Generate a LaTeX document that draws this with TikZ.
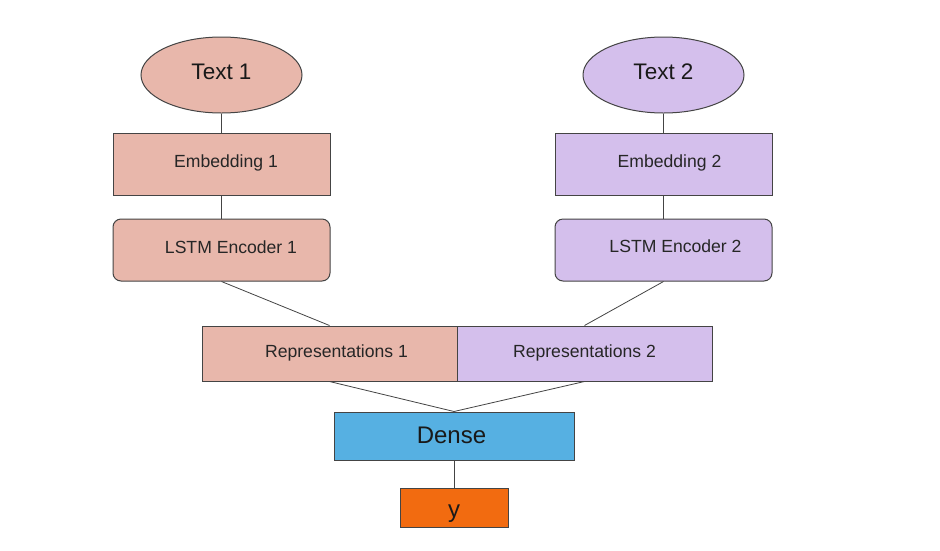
\documentclass[tikz,border=0pt]{standalone}
\usepackage{fontspec}
\setmainfont{Liberation Sans}
\usetikzlibrary{shapes.geometric}
\definecolor{pinkc}{HTML}{E8B7AB}
\definecolor{lavc}{HTML}{D4BFEC}
\definecolor{densec}{HTML}{56B0E2}
\definecolor{outc}{HTML}{F26B10}
\definecolor{linec}{HTML}{444444}
\begin{document}
\begin{tikzpicture}[x=1pt,y=-1pt,
  box/.style={draw=linec, line width=1pt, rectangle, inner sep=0pt, anchor=center},
  oval/.style={draw=linec, line width=1pt, ellipse, inner sep=0pt, minimum width=161pt, minimum height=76pt},
  big/.style={font=\fontsize{22.5}{25}\selectfont, text=black!90},
  lbl/.style={font=\fontsize{17.6}{20}\selectfont, text=black!85},
  conn/.style={draw=linec, line width=0.8pt}]
\useasboundingbox (0,0) rectangle (940,550);
\fill[white] (0,0) rectangle (940,550);
% ellipses
\node[oval, fill=pinkc, label={[big, yshift=3pt]center:Text 1}] (t1) at (221.5,75) {};
\node[oval, fill=lavc, label={[big, yshift=3pt]center:Text 2}] (t2) at (663.5,75) {};
% embeddings
\node[box, fill=pinkc, minimum width=217pt, minimum height=62pt, label={[lbl, xshift=4.5pt, yshift=1pt]center:Embedding 1}] (e1) at (221.5,164) {};
\node[box, fill=lavc, minimum width=217pt, minimum height=62pt, label={[lbl, xshift=6pt, yshift=1pt]center:Embedding 2}] (e2) at (663.5,164) {};
% lstm
\node[box, fill=pinkc, rounded corners=8pt, minimum width=217pt, minimum height=62pt, label={[lbl, xshift=9.5pt, yshift=2.5pt]center:LSTM Encoder 1}] (l1) at (221.5,250) {};
\node[box, fill=lavc, rounded corners=8pt, minimum width=217pt, minimum height=62pt, label={[lbl, xshift=12pt, yshift=3.5pt]center:LSTM Encoder 2}] (l2) at (663.5,250) {};
% representations
\node[box, fill=pinkc, minimum width=255pt, minimum height=55pt, label={[lbl, xshift=7pt, yshift=1pt]center:Representations 1}] (r1) at (329.5,353.5) {};
\node[box, fill=lavc, minimum width=255pt, minimum height=55pt, label={[lbl, yshift=1pt]center:Representations 2}] (r2) at (584.5,353.5) {};
% dense
\node[box, fill=densec, minimum width=240pt, minimum height=48pt, label={[big, font=\fontsize{24}{26}\selectfont, xshift=-2.5pt, yshift=1pt]center:Dense}] (d) at (454,436) {};
% y
\node[box, fill=outc, minimum width=108pt, minimum height=39pt, label={[big, font=\fontsize{24}{26}\selectfont, yshift=-6pt]center:y}] (y) at (454,507.5) {};
% connectors
\draw[conn] (t1.south) -- (e1.north);
\draw[conn] (t2.south) -- (e2.north);
\draw[conn] (e1.south) -- (l1.north);
\draw[conn] (e2.south) -- (l2.north);
\draw[conn] (l1.south) -- (r1.north);
\draw[conn] (l2.south) -- (r2.north);
\draw[conn] (r1.south) -- (d.north);
\draw[conn] (r2.south) -- (d.north);
\draw[conn] (d.south) -- (y.north);
\end{tikzpicture}
\end{document}
